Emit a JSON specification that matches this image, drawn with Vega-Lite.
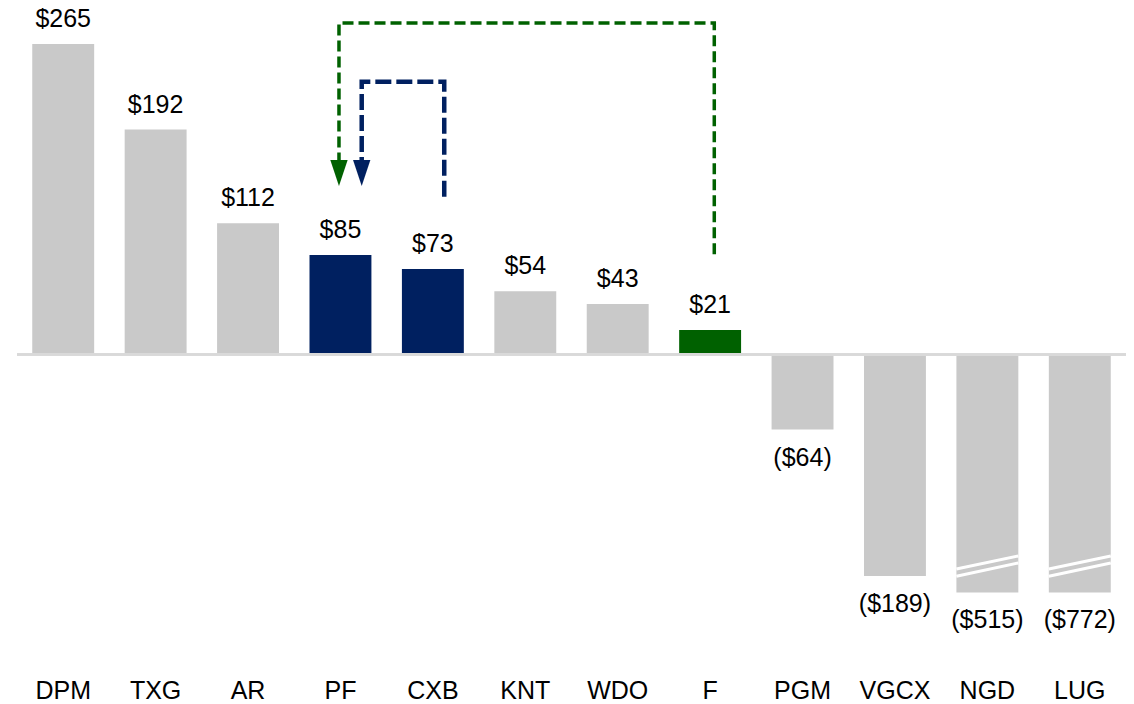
{
  "$schema": "https://vega.github.io/schema/vega-lite/v6.json",
  "width": 1109,
  "height": 672,
  "autosize": {"type": "none"},
  "padding": {"left": 17, "top": 0, "right": 8, "bottom": 32},
  "background": "white",
  "config": {
    "view": {"stroke": null},
    "font": "Liberation Sans",
    "text": {"font": "Liberation Sans", "fontSize": 25, "color": "black"}
  },
  "datasets": {
    "main": [
      {"company": "DPM", "value": 265, "disp": 265, "label": "$265", "group": "peer"},
      {"company": "TXG", "value": 192, "disp": 192, "label": "$192", "group": "peer"},
      {"company": "AR", "value": 112, "disp": 112, "label": "$112", "group": "peer"},
      {"company": "PF", "value": 85, "disp": 85, "label": "$85", "group": "navy"},
      {"company": "CXB", "value": 73, "disp": 73, "label": "$73", "group": "navy"},
      {"company": "KNT", "value": 54, "disp": 54, "label": "$54", "group": "peer"},
      {"company": "WDO", "value": 43, "disp": 43, "label": "$43", "group": "peer"},
      {"company": "F", "value": 21, "disp": 21, "label": "$21", "group": "green"},
      {"company": "PGM", "value": -64, "disp": -64, "label": "($64)", "group": "peer"},
      {"company": "VGCX", "value": -189, "disp": -189, "label": "($189)", "group": "peer"},
      {"company": "NGD", "value": -515, "disp": -203, "label": "($515)", "group": "peer"},
      {"company": "LUG", "value": -772, "disp": -203, "label": "($772)", "group": "peer"}
    ],
    "arrows": [
      {"arrow": "green", "step": 1, "x": 7.545, "y": 85.5},
      {"arrow": "green", "step": 2, "x": 7.545, "y": 282.8},
      {"arrow": "green", "step": 3, "x": 3.484, "y": 282.8},
      {"arrow": "green", "step": 4, "x": 3.484, "y": 166},
      {"arrow": "navy", "step": 1, "x": 4.623, "y": 134.6},
      {"arrow": "navy", "step": 2, "x": 4.623, "y": 232.8},
      {"arrow": "navy", "step": 3, "x": 3.73, "y": 232.8},
      {"arrow": "navy", "step": 4, "x": 3.73, "y": 166}
    ],
    "heads": [
      {"arrow": "green", "x": 3.484, "y": 154.9},
      {"arrow": "navy", "x": 3.73, "y": 154.9}
    ]
  },
  "layer": [
    {
      "data": {"name": "main"},
      "layer": [
        {
          "mark": {"type": "bar"},
          "encoding": {
            "x": {
              "field": "company", "type": "nominal", "sort": null,
              "scale": {"paddingInner": 0.33, "paddingOuter": 0.165},
              "axis": {
                "title": null, "domain": false, "ticks": false, "tickSize": 0, "grid": false,
                "labelAngle": 0, "labelFont": "Liberation Sans", "labelFontSize": 25,
                "labelColor": "black", "labelPadding": 18, "labelBaseline": "middle"
              }
            },
            "y": {"field": "disp", "type": "quantitative", "scale": {"domain": [-270.9, 302.5], "nice": false, "zero": false}, "axis": null},
            "y2": {"datum": 0},
            "color": {
              "field": "group", "type": "nominal",
              "scale": {"domain": ["peer", "navy", "green"], "range": ["#c9c9c9", "#002060", "#006100"]},
              "legend": null
            }
          }
        },
        {
          "mark": {"type": "rule", "color": "#d9d9d9", "strokeWidth": 2},
          "encoding": {"y": {"datum": 0, "type": "quantitative", "scale": {"domain": [-270.9, 302.5], "nice": false, "zero": false}}}
        },
        {
          "transform": [{"filter": "datum.value >= 0"}],
          "mark": {"type": "text", "baseline": "alphabetic", "dy": -17},
          "encoding": {
            "x": {"field": "company", "type": "nominal", "sort": null},
            "y": {"field": "disp", "type": "quantitative", "scale": {"domain": [-270.9, 302.5], "nice": false, "zero": false}},
            "text": {"field": "label"}
          }
        },
        {
          "transform": [{"filter": "datum.value < 0"}],
          "mark": {"type": "text", "baseline": "top", "dy": 16},
          "encoding": {
            "x": {"field": "company", "type": "nominal", "sort": null},
            "y": {"field": "disp", "type": "quantitative", "scale": {"domain": [-270.9, 302.5], "nice": false, "zero": false}},
            "text": {"field": "label"}
          }
        },
        {
          "transform": [{"filter": "datum.value < datum.disp"}],
          "mark": {"type": "rule", "color": "white", "strokeWidth": 3, "xOffset": -31, "x2Offset": 31},
          "encoding": {
            "x": {"field": "company", "type": "nominal", "sort": null},
            "x2": {"field": "company"},
            "y": {"datum": -183},
            "y2": {"datum": -171.9}
          }
        },
        {
          "transform": [{"filter": "datum.value < datum.disp"}],
          "mark": {"type": "rule", "color": "white", "strokeWidth": 3, "xOffset": -31, "x2Offset": 31},
          "encoding": {
            "x": {"field": "company", "type": "nominal", "sort": null},
            "x2": {"field": "company"},
            "y": {"datum": -189.2},
            "y2": {"datum": -177.9}
          }
        }
      ]
    },
    {
      "layer": [
        {
          "data": {"name": "arrows"},
          "transform": [{"filter": "datum.arrow == 'green'"}],
          "mark": {"type": "line", "color": "#006100", "strokeWidth": 3.5, "strokeDash": [11, 5], "strokeCap": "butt", "strokeJoin": "miter"},
          "encoding": {
            "x": {"field": "x", "type": "quantitative", "scale": {"domain": [0, 12], "nice": false, "zero": false}, "axis": null},
            "y": {"field": "y", "type": "quantitative", "scale": {"domain": [-270.9, 302.5], "nice": false, "zero": false}},
            "order": {"field": "step"}
          }
        },
        {
          "data": {"name": "arrows"},
          "transform": [{"filter": "datum.arrow == 'navy'"}],
          "mark": {"type": "line", "color": "#002060", "strokeWidth": 4.5, "strokeDash": [16, 5], "strokeCap": "butt", "strokeJoin": "miter"},
          "encoding": {
            "x": {"field": "x", "type": "quantitative", "scale": {"domain": [0, 12], "nice": false, "zero": false}, "axis": null},
            "y": {"field": "y", "type": "quantitative", "scale": {"domain": [-270.9, 302.5], "nice": false, "zero": false}},
            "order": {"field": "step"}
          }
        },
        {
          "data": {"name": "heads"},
          "mark": {"type": "point", "shape": "M-0.667,-1L0.667,-1L0,1Z", "size": 676, "filled": true, "opacity": 1, "strokeWidth": 0},
          "encoding": {
            "x": {"field": "x", "type": "quantitative", "scale": {"domain": [0, 12], "nice": false, "zero": false}, "axis": null},
            "y": {"field": "y", "type": "quantitative", "scale": {"domain": [-270.9, 302.5], "nice": false, "zero": false}},
            "color": {"field": "arrow", "type": "nominal", "scale": {"domain": ["green", "navy"], "range": ["#006100", "#002060"]}, "legend": null}
          }
        }
      ]
    }
  ],
  "resolve": {"scale": {"x": "independent", "color": "independent"}}
}
